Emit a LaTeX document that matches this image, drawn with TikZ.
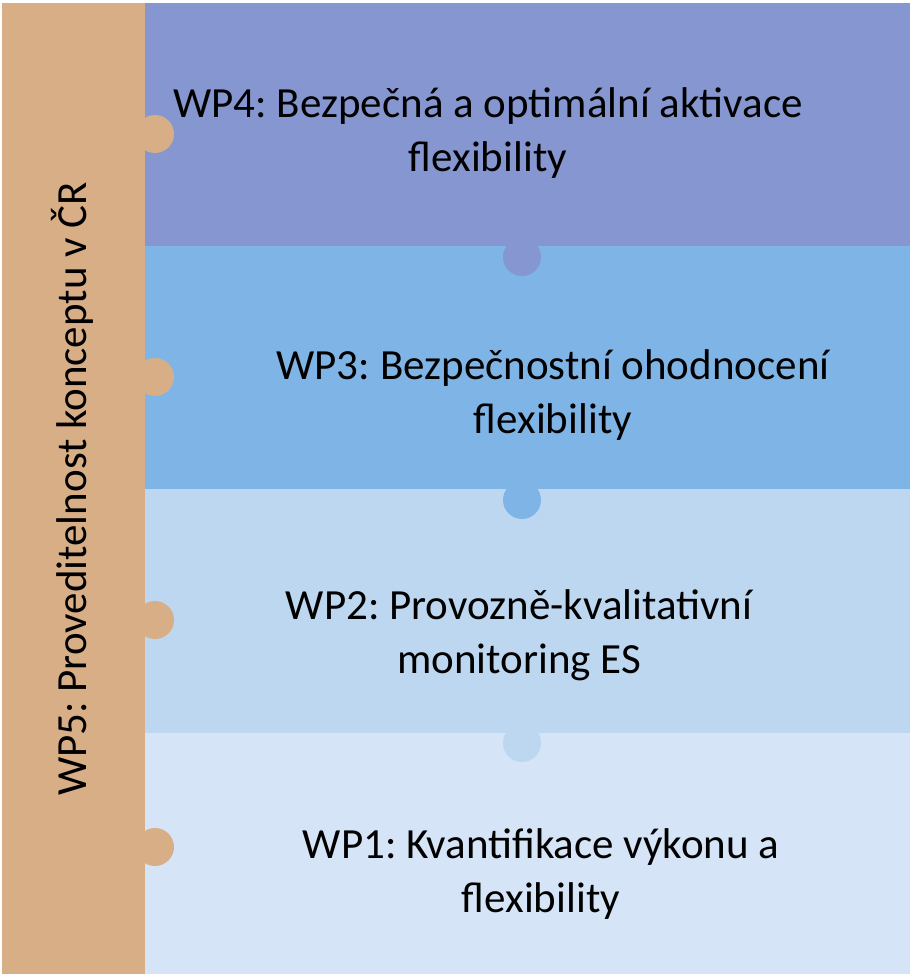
\documentclass[tikz,border=0pt]{standalone}
\usepackage{fontspec}
\setmainfont{Carlito}
\frenchspacing
\definecolor{tan}{HTML}{D8AE87}
\definecolor{wpfour}{HTML}{8596D0}
\definecolor{wpthree}{HTML}{7FB4E6}
\definecolor{wptwo}{HTML}{BDD7F1}
\definecolor{wpone}{HTML}{D5E4F6}
\tikzset{wptext/.style={align=center,font=\fontsize{43}{54}\selectfont,inner sep=0pt}}
\begin{document}
\begin{tikzpicture}[x=1pt,y=-1pt]
\useasboundingbox (0,0) rectangle (910,974);
% bands
\fill[wpfour] (145,3) rectangle (910,246);
\fill[wpthree] (145,246) rectangle (910,489);
\fill[wptwo] (145,489) rectangle (910,733);
\fill[wpone] (145,733) rectangle (910,974);
% knobs between bands
\fill[wpfour] (522,257) circle (19);
\fill[wpthree] (522,500) circle (19);
\fill[wptwo] (522,743) circle (19);
% WP5 bar
\fill[tan] (2,3) rectangle (145,974);
\foreach \y in {134,377,620,847}
  \fill[tan] (155,\y) circle (19);
\node[wptext,rotate=90] (wp5) at (72,489) {WP5: Proveditelnost konceptu v ČR};
\node[wptext] (wp4) at (488,133) {WP4: Bezpečná a optimální aktivace\\flexibility};
\node[wptext] (wp3) at (553,395) {WP3: Bezpečnostní ohodnocení\\flexibility};
\node[wptext] (wp2) at (519,635) {WP2: Provozně-kvalitativní\\monitoring ES};
\node[wptext] (wp1) at (541,874) {WP1: Kvantifikace výkonu a\\flexibility};
\end{tikzpicture}
\end{document}
